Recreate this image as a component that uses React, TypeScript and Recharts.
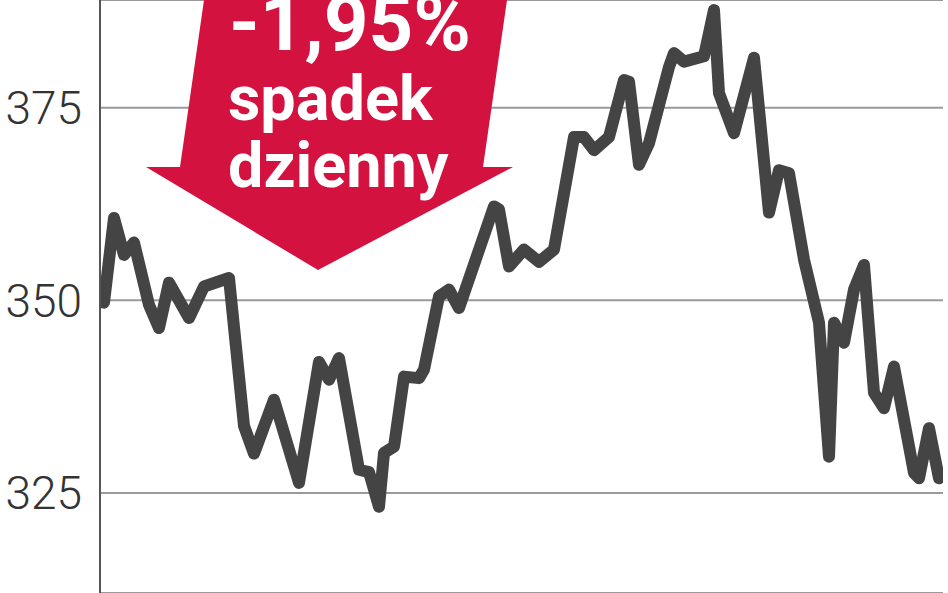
import React from 'react';
import { LineChart, Line, XAxis, YAxis, CartesianGrid } from 'recharts';

// trading-day index and closing value
const days = [
  0, 2, 4, 6, 9, 11, 13, 17, 20, 25, 28, 30, 34, 39, 43, 45, 47, 51, 53, 55,
  56, 58, 60, 63, 64, 67, 69, 71, 78, 79, 81, 84, 87, 90, 94, 96, 98, 101, 104, 105,
  107, 109, 113, 114, 116, 120, 122, 123, 126, 130, 133, 135, 137, 140, 143, 145, 146, 148, 150, 152,
  154, 156, 158, 162, 163, 165, 167,
];
const values = [
  349.7, 360.7, 355.9, 357.5, 349.4, 346.4, 352.3, 347.7, 351.8, 352.9, 333.7, 330.1, 337.1, 326.3, 342.0, 339.7, 342.5, 328.0, 327.7, 323.2,
  330.2, 331.0, 340.1, 339.9, 341.0, 350.5, 351.4, 349.0, 362.2, 361.8, 354.4, 356.6, 355.0, 356.6, 371.2, 371.2, 369.5, 371.2, 378.6, 378.4,
  367.6, 370.4, 380.3, 382.1, 381.0, 381.7, 387.7, 376.9, 371.7, 381.5, 361.4, 366.9, 366.5, 355.3, 347.1, 329.7, 347.1, 344.5, 351.4, 354.6,
  338.0, 336.0, 341.4, 327.6, 326.9, 333.4, 326.9,
];
const yTicks = [325, 350, 375];
const changeLabel = '-1,95%';
const captionLines = ['spadek', 'dzienny'];

const data = days.map((day, i) => ({ day, value: values[i] }));

const App = () => {
  return (
    <div style={{ position: 'absolute', left: 0, top: 0, width: 948, height: 593, background: '#fff' }}>
      <LineChart width={948} height={593} data={data} margin={{ top: 0, right: 5, bottom: 0, left: 0 }}>
        <CartesianGrid vertical={false} stroke="#9a9a9a" strokeWidth={2} />
        <XAxis type="number" dataKey="day" domain={[-0.8, 167.8]} hide allowDataOverflow />
        <YAxis
          width={100}
          domain={[312, 389]}
          ticks={yTicks}
          allowDataOverflow
          tickLine={false}
          tickMargin={12}
          axisLine={{ stroke: '#555', strokeWidth: 2 }}
          tick={{ fill: '#333', fontSize: 46, fontFamily: 'Roboto', fontWeight: 300 }}
        />
        <Line
          type="linear"
          dataKey="value"
          stroke="#444"
          strokeWidth={12}
          strokeLinejoin="round"
          strokeLinecap="round"
          dot={false}
          isAnimationActive={false}
        />
      </LineChart>
      <svg width={948} height={593} style={{ position: 'absolute', left: 0, top: 0, pointerEvents: 'none' }}>
        <polygon points="204,0 507,0 483,167 513,167 318,270 146,167 180,167" fill="#d3123f" />
        <text x={229} y={50} fill="#fff" fontFamily="Roboto" fontWeight={700} fontSize={78}>
          {changeLabel}
        </text>
        {captionLines.map((t, i) => (
          <text key={t} x={228} y={120 + i * 67} fill="#fff" fontFamily="Roboto" fontWeight={700} fontSize={63}>
            {t}
          </text>
        ))}
      </svg>
    </div>
  );
};

export default App;
